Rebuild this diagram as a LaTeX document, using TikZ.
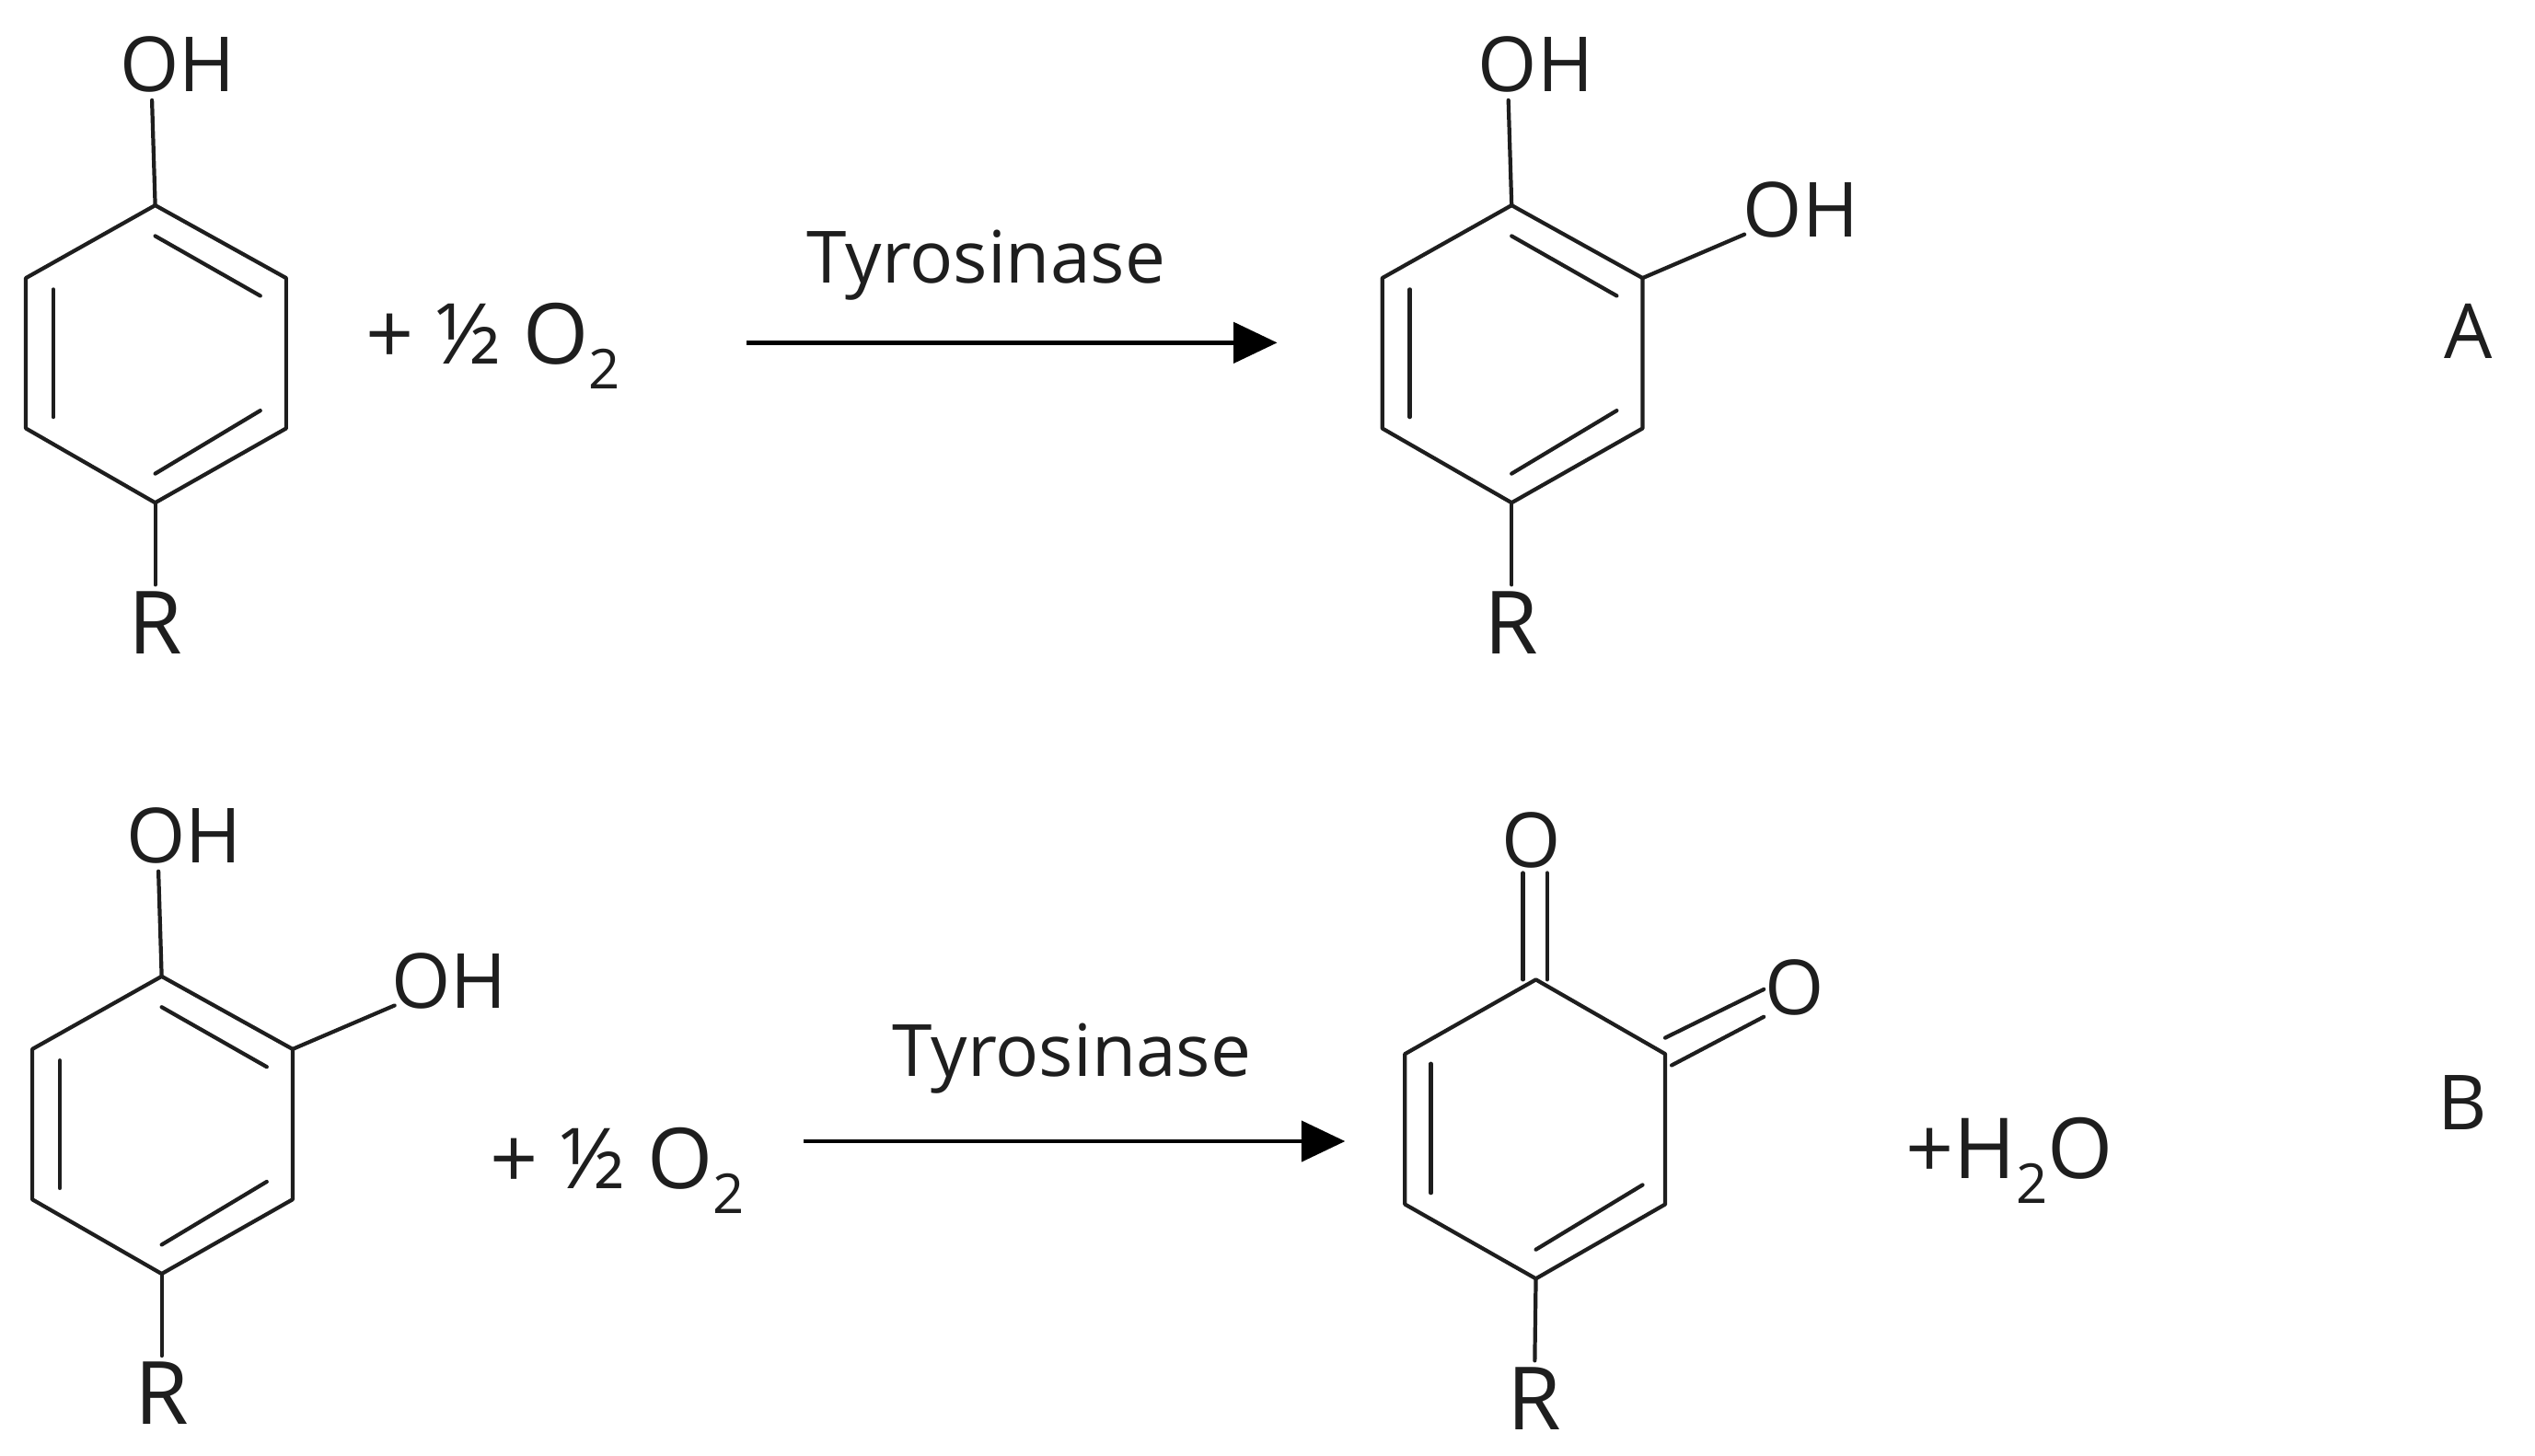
\documentclass[tikz,border=0pt]{standalone}
\usepackage{fontspec}
\setmainfont{Open Sans}
\usetikzlibrary{arrows.meta}
\definecolor{ink}{HTML}{1E1E1E}
\newcommand{\lowtwo}{\raisebox{-0.3em}{\fontsize{17}{17}\selectfont 2}}
\tikzset{
  bond/.style={draw=ink,line width=1.2pt,line cap=round,line join=round},
  rxn/.style={draw=black,line width=1.4pt,-{Triangle[length=13.5pt,width=12.5pt]},shorten >=0pt},
  txt/.style={inner sep=0pt,outer sep=2pt,text=ink,font=\fontsize{23.5}{26}\selectfont},
  rgroup/.style={inner sep=0pt,outer sep=2pt,text=ink,font=\fontsize{27}{28}\selectfont},
  enz/.style={inner sep=0pt,outer sep=2pt,text=ink,font=\fontsize{22.3}{26}\selectfont},
  big/.style={inner sep=0pt,outer sep=0pt,text=ink,font=\fontsize{26}{28}\selectfont}
}
\begin{document}
\begin{tikzpicture}[x=0.017564cm,y=-0.017564cm]
\useasboundingbox (0,0) rectangle (1568,900.2);
% ---------- molecule 1
\coordinate (at) at (96,127); \coordinate (aur) at (177,172); \coordinate (alr) at (177,265);
\coordinate (ab) at (96,311); \coordinate (all) at (16,265); \coordinate (aul) at (16,172);
\coordinate (aoh) at (94,62);
\node[txt] (aOH) at (110,40) {OH};
\node[rgroup] (aR) at (96,385) {R};
\draw[bond] (at)--(aur)--(alr)--(ab)--(all)--(aul)--cycle;
\draw[bond] (at)--(aoh);
\draw[bond] (ab)--(aR);
\coordinate (ai1) at (96,146); \coordinate (ai2) at (161,183);
\coordinate (ai3) at (33,179); \coordinate (ai4) at (33,258);
\coordinate (ai5) at (161,254); \coordinate (ai6) at (96,293);
\draw[bond] (ai1)--(ai2); \draw[bond] (ai3)--(ai4); \draw[bond] (ai5)--(ai6);
\node[big] (aplus) at (305,214) {+ ½ O\lowtwo};
% arrow 1
\coordinate (arr1s) at (462,212); \coordinate (arr1e) at (790,212);
\draw[rxn] (arr1s)--(arr1e);
\node[enz] (tyr1) at (610,164) {Tyrosinase};
% ---------- molecule 2
\coordinate (bt) at (935,127); \coordinate (bur) at (1016,172); \coordinate (blr) at (1016,265);
\coordinate (bb) at (935,311); \coordinate (bll) at (855,265); \coordinate (bul) at (855,172);
\coordinate (boh) at (933,62); \coordinate (boh2) at (1079,145);
\node[txt] (bOH) at (950,40) {OH};
\node[txt] (bOHb) at (1114,130) {OH};
\node[rgroup] (bR) at (935,385) {R};
\draw[bond] (bt)--(bur)--(blr)--(bb)--(bll)--(bul)--cycle;
\draw[bond] (bt)--(boh);
\draw[bond] (bur)--(boh2);
\draw[bond] (bb)--(bR);
\coordinate (bi1) at (935,146); \coordinate (bi2) at (1000,183);
\coordinate (bi3) at (872,179); \coordinate (bi4) at (872,258);
\coordinate (bi5) at (1000,254); \coordinate (bi6) at (935,293);
\draw[bond] (bi1)--(bi2); \draw[bond] (bi3)--(bi4); \draw[bond] (bi5)--(bi6);
\node[txt] (lA) at (1527,205) {A};
% ---------- molecule 3
\coordinate (ct) at (100,604); \coordinate (cur) at (181,649); \coordinate (clr) at (181,742);
\coordinate (cb) at (100,788); \coordinate (cll) at (20,742); \coordinate (cul) at (20,649);
\coordinate (coh) at (98,539); \coordinate (coh2) at (244,622);
\node[txt] (cOH) at (114,517) {OH};
\node[txt] (cOHb) at (278,607) {OH};
\node[rgroup] (cR) at (100,862) {R};
\draw[bond] (ct)--(cur)--(clr)--(cb)--(cll)--(cul)--cycle;
\draw[bond] (ct)--(coh);
\draw[bond] (cur)--(coh2);
\draw[bond] (cb)--(cR);
\coordinate (ci1) at (100,623); \coordinate (ci2) at (165,660);
\coordinate (ci3) at (37,656); \coordinate (ci4) at (37,735);
\coordinate (ci5) at (165,731); \coordinate (ci6) at (100,770);
\draw[bond] (ci1)--(ci2); \draw[bond] (ci3)--(ci4); \draw[bond] (ci5)--(ci6);
\node[big] (cplus) at (382,724) {+ ½ O\lowtwo};
% arrow 2
\coordinate (arr2s) at (497,706); \coordinate (arr2e) at (832,706);
\draw[rxn] (arr2s)--(arr2e);
\node[enz] (tyr2) at (663,655) {Tyrosinase};
% ---------- molecule 4
\coordinate (dt) at (950,606); \coordinate (dur) at (1030,652); \coordinate (dlr) at (1030,745);
\coordinate (db) at (950,791); \coordinate (dll) at (869,745); \coordinate (dul) at (869,652);
\node[txt] (dO) at (947,520) {O};
\node[txt] (dOb) at (1110,611) {O};
\node[rgroup] (dR) at (949,865) {R};
\draw[bond] (dt)--(dur)--(dlr)--(db)--(dll)--(dul)--cycle;
\draw[bond] (db)--(dR);
\coordinate (do1) at (942,540); \coordinate (do2) at (942,606);
\coordinate (do3) at (957,540); \coordinate (do4) at (957,606);
\draw[bond] (do1)--(do2); \draw[bond] (do3)--(do4);
\coordinate (do5) at (1030,642); \coordinate (do6) at (1091,612);
\coordinate (do7) at (1034,659); \coordinate (do8) at (1091,629);
\draw[bond] (do5)--(do6); \draw[bond] (do7)--(do8);
\coordinate (di3) at (885,658); \coordinate (di4) at (885,738);
\coordinate (di5) at (1016,733); \coordinate (di6) at (950,773);
\draw[bond] (di3)--(di4); \draw[bond] (di5)--(di6);
\node[big] (dplus) at (1243,718) {+H\lowtwo O};
\node[txt] (lB) at (1523,682) {B};
\end{tikzpicture}
\end{document}
